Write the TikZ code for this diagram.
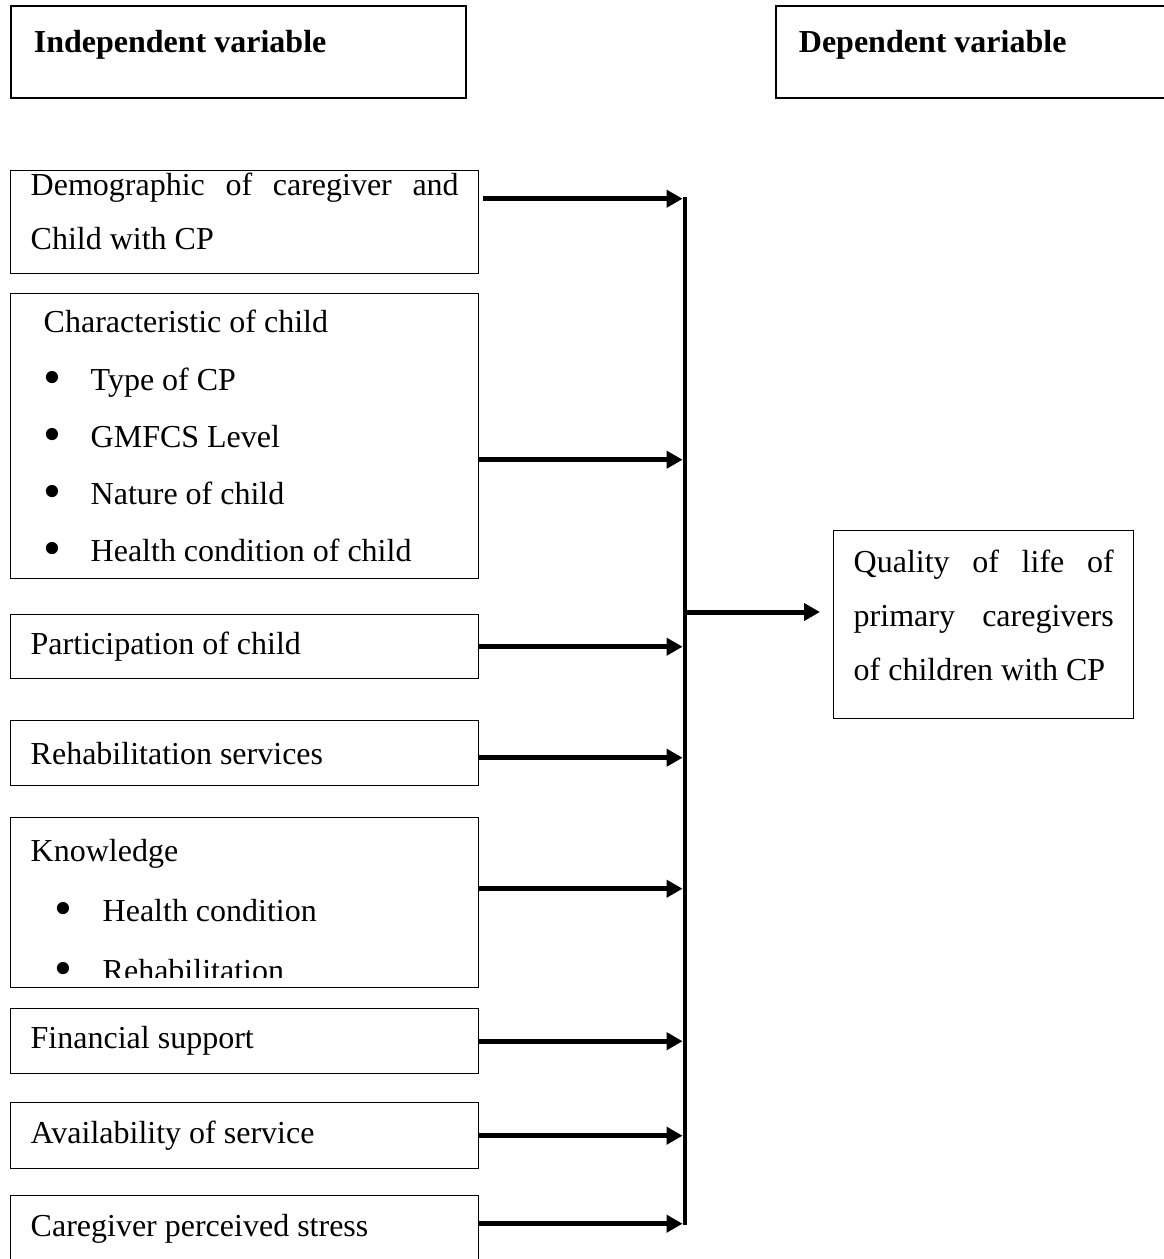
\documentclass[tikz,border=0pt]{standalone}
\usepackage{fontspec}
\setmainfont{Liberation Serif}
\usepackage{graphicx}
\usetikzlibrary{arrows.meta}

% bullet lines inside the boxes
\newcommand{\bdot}{\raisebox{-1.8pt}{\scalebox{1.6}{\textbullet}}}
\newcommand{\bitem}[1]{\hspace*{6.2pt}\makebox[23.8pt][l]{\bdot}#1}
\newcommand{\kitem}[1]{\hspace*{11.7pt}\makebox[24.3pt][l]{\bdot}#1}
\newcommand{\nohyph}{\hyphenpenalty=10000\relax\exhyphenpenalty=10000\relax}

\begin{document}
\begin{tikzpicture}[x=0.5pt,y=-0.5pt]
    \useasboundingbox (0,0) rectangle (1163,1259);

    % headings
    \begin{scope}[every node/.style={draw,line width=0.9pt,anchor=north west,
        inner sep=0pt,inner xsep=11.5pt,minimum width=227.5pt,minimum height=46pt,
        text width=204.5pt,text height=11pt,text depth=10pt,align=justify,
        font=\fontsize{16}{27}\selectfont\bfseries}]
      \node (iv) at (10,5) {Independent variable};
      \node (dv) at (775,5) {Dependent variable};
    \end{scope}

    % factors
    \begin{scope}[every node/.style={draw,line width=0.7pt,anchor=north west,
        inner sep=0pt,inner xsep=10pt,minimum width=234pt,text width=214pt,
        align=justify,font=\fontsize{16}{27}\selectfont\nohyph}]
      \node[minimum height=51.5pt] (f1) at (10,170) {Demographic of caregiver and Child with CP\rule[-11pt]{0pt}{0pt}};
      \node[minimum height=142.5pt] (f2) at (10,293) {\rule{0pt}{13pt}\hspace*{6.5pt}Characteristic of child\\[2pt]
        \bitem{Type of CP}\\[1.5pt]
        \bitem{GMFCS Level}\\[1.5pt]
        \bitem{Nature of child}\\[1.5pt]
        \bitem{Health condition of child}};
      \node[minimum height=32pt] (f3) at (10,614) {Participation of child};
      \node[minimum height=32.5pt] (f4) at (10,720) {Rehabilitation services};
      \node[minimum height=85pt] (f5) at (10,817) {\rule{0pt}{20.5pt}Knowledge\\[3pt]
        \kitem{Health condition}\\[3pt]
        \kitem{Rehabilitation}};
      \node[minimum height=32.5pt] (f6) at (10,1008) {Financial support};
      \node[minimum height=33pt] (f7) at (10,1102) {Availability of service};
      \node[minimum height=33pt] (f8) at (10,1195) {Caregiver perceived stress};
      \node[minimum width=150pt,minimum height=94pt,text width=130pt] (qol) at (833,530)
        {Quality of life of primary caregivers of children with CP\rule[-9pt]{0pt}{0pt}};
    \end{scope}

    % cut-off last line of the knowledge box
    \fill[white] ([shift={(0.5pt,0.5pt)}]f5.south west) rectangle ([shift={(-0.5pt,5pt)}]f5.south east);

    \coordinate (bustop) at (685,197);
    \coordinate (busbot) at (685,1225);
    \coordinate (busout) at (685,612);
    \draw[line width=2.4pt] (bustop) -- (busbot);

    \coordinate (a1) at ([xshift=2pt,yshift=11.75pt]f1.east);
    \coordinate (a2) at ([yshift=-11.75pt]f2.east);
    \coordinate (a3) at (f3.east);
    \coordinate (a4) at ([yshift=-2.25pt]f4.east);
    \coordinate (a5) at ([yshift=7pt]f5.east);
    \coordinate (a6) at (f6.east);
    \coordinate (a7) at (f7.east);
    \coordinate (a8) at ([yshift=2.5pt]f8.east);

    \begin{scope}[>={Triangle[length=8pt,width=8.5pt]},
        every edge/.style={draw,line width=2.5pt},shorten >=1.2pt]
      \path [->] (a1) edge (a1 -| bustop);
      \path [->] (a2) edge (a2 -| bustop);
      \path [->] (a3) edge (a3 -| bustop);
      \path [->] (a4) edge (a4 -| bustop);
      \path [->] (a5) edge (a5 -| bustop);
      \path [->] (a6) edge (a6 -| bustop);
      \path [->] (a7) edge (a7 -| bustop);
      \path [->] (a8) edge (a8 -| bustop);
      \path [->,shorten >=6.5pt] (busout) edge (qol.west |- busout);
    \end{scope}
\end{tikzpicture}
\end{document}
